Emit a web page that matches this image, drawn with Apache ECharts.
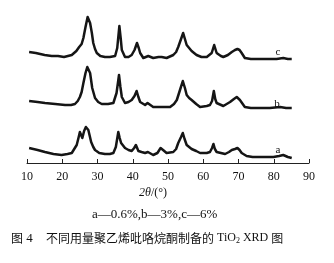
<!DOCTYPE html>
<html><head><meta charset="utf-8">
<script src="https://cdn.jsdelivr.net/npm/echarts@6/dist/echarts.min.js"></script>
<style>html,body{margin:0;padding:0;background:#fff}#c{width:334px;height:263px}</style>
</head><body><div id="c"></div>
<script>
// 2θ (degrees) and relative intensity (arbitrary, curves stacked with offsets)
const xTicks = [10, 20, 30, 40, 50, 60, 70, 80, 90];

const xA = [10.6,13,15.1,17.5,19.8,21.5,22.7,24.1,24.6,25,25.4,25.7,26.2,26.7,27.1,27.4,27.8,28.2,28.8,29.3,30.5,32.1,33.5,34.5,35.2,35.9,36.3,36.7,37.8,38.8,39.7,40.4,40.9,41.6,42.5,43.5,44.3,45.8,47,47.9,48.6,49.6,51.5,52.3,52.9,53.7,54.2,54.7,55.3,56,56.7,58,59.1,61,61.9,62.5,62.9,63.3,63.8,65,66.2,67.3,68.1,69,69.7,70.3,70.9,72.3,74,76.1,78,79.9,81.5,82.7,84,85.1];
const yA = [15,13,11,9,8,9,10,18,25,31,29,25,32,36,35,33,27,21,16,13,10,9,9,10,16,31,25,20,15,13,12,15,18,12,11,10,11,8,10,15,13,10,11,14,20,26,30,24,18,16,14,12,10,10,11,15,19,14,11,10,9,11,13,14,15,13,10,7,6,6,6,6,7,8,6,5];

const xB = [10.6,13,15.1,18,20.8,22.5,23.6,24.4,25,25.5,26,26.6,27.1,27.5,27.9,28.5,29.3,30.2,31.2,33,34.5,35.4,36.1,36.5,36.9,37.8,38.8,39.7,40.5,41.1,41.6,42.1,43.5,44.2,45.8,47.7,48.2,50.6,51.7,52.5,53.4,54.2,54.8,55.3,56,56.7,58,59.1,61,61.9,62.5,63,63.4,63.8,65.7,67.6,68.7,69.5,70.4,71.2,71.8,73.5,75.2,78.9,81.8,83.5,85.1];
const yB = [62,61,60,59,58,58,59,62,66,71,80,90,96,95,90,75,65,61,59,59,60,70,88,76,66,60,61,63,67,72,66,61,58,60,56,56,56,56,59,63,73,82,75,68,65,63,59,56,57,58,62,72,64,60,57,61,64,66,63,59,56,55,55,55,56,55,55];

const xC = [10.6,12.5,15,17,18.8,20.5,22.7,24,24.8,25.5,26,26.6,27.2,27.5,27.9,28.4,28.8,29.3,29.8,30.8,32.1,33.5,35,35.6,36.2,36.6,36.9,37.8,38.8,39.7,40.5,41.2,41.7,42.1,43,44.4,45.8,47.3,48.2,49.6,51.5,52.3,52.9,53.7,54.3,54.8,55.3,56,56.7,58.1,59.5,61,62.4,63.1,63.8,65,65.7,67,68.1,69,69.7,70.3,70.9,71.8,73.5,75.2,77,78.9,80.8,82.7,84,85.1];
const yC = [111,110,108,107,107,106,108,112,116,119,125,136,146,145,140,130,120,114,110,107,106,106,107,115,137,124,113,106,106,108,113,120,115,110,105,107,105,106,106,105,108,111,116,124,130,124,118,115,112,108,106,106,110,118,110,107,106,108,111,113,114,113,110,105,104,104,104,104,104,105,104,104];

const seriesNames = ['a', 'b', 'c'];
const labelPos = [[81.2, 13], [80.9, 59], [81.2, 111]];

const pairs = (xs, ys) => xs.map((x, i) => [x, ys[i]]);
const datas = [pairs(xA, yA), pairs(xB, yB), pairs(xC, yC)];

const serif = "'Liberation Serif','DejaVu Serif',serif";
const chart = echarts.init(document.getElementById('c'));
chart.setOption({
  animation: false,
  backgroundColor: '#fff',
  grid: { left: 27, right: 25, top: 13, bottom: 100 },
  xAxis: {
    type: 'value', min: 10, max: 90, interval: 10,
    axisLine: { lineStyle: { color: '#222', width: 1 } },
    axisTick: { inside: true, length: 4, lineStyle: { color: '#222' } },
    axisLabel: { color: '#111', fontFamily: serif, fontSize: 12, margin: 8,
      formatter: v => xTicks.includes(v) ? String(v) : '' },
    splitLine: { show: false }
  },
  yAxis: { type: 'value', min: 0, max: 150, show: false },
  series: datas.map((d, i) => ({
    type: 'line', name: seriesNames[i], data: d, showSymbol: false, smooth: false,
    lineStyle: { color: '#151515', width: 2.5, join: 'round' },
    markPoint: {
      symbol: 'circle', symbolSize: 0,
      label: { show: true, formatter: seriesNames[i], color: '#111', fontFamily: serif, fontSize: 11, position: 'inside' },
      data: [{ coord: labelPos[i] }]
    }
  })),
  graphic: [
    { type: 'text', left: 139, top: 187, style: {
      text: '{i|2θ}{n|/(°)}', rich: {
        i: { fontFamily: serif, fontStyle: 'italic', fontSize: 12, fill: '#111' },
        n: { fontFamily: serif, fontSize: 12, fill: '#111' } } } },
    { type: 'text', left: 92, top: 208, style: {
      text: 'a—0.6%,b—3%,c—6%', font: "13px 'Liberation Serif', serif", fill: '#111' } },
    { type: 'text', left: 11, top: 232, style: {
      text: '{c|图} {s|4}', rich: {
        c: { fontFamily: "'Noto Sans CJK SC'", fontSize: 12, fill: '#111' },
        s: { fontFamily: serif, fontSize: 13, fill: '#111' } } } },
    { type: 'text', left: 46, top: 232, style: {
      text: '{c|不同用量聚乙烯吡咯烷酮制备的}{s| TiO}{sub|2}{s| XRD }{c|图}', rich: {
        c: { fontFamily: "'Noto Sans CJK SC'", fontSize: 12, fill: '#111' },
        s: { fontFamily: serif, fontSize: 12, fill: '#111' },
        sub: { fontFamily: serif, fontSize: 8, fill: '#111', verticalAlign: 'bottom', padding: [5, 0, 0, 0] } } } }
  ]
});
</script></body></html>
